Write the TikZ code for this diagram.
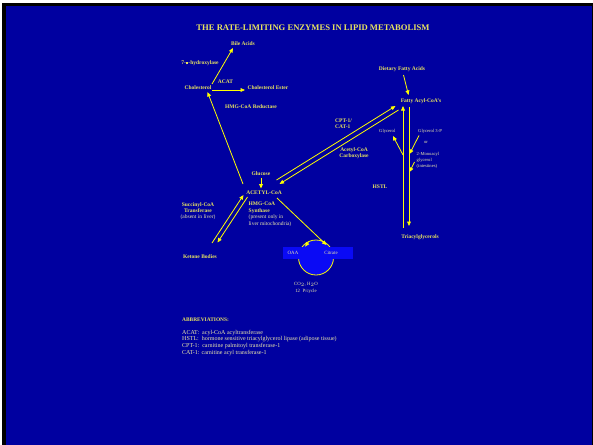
\documentclass[tikz,border=0pt]{standalone}
\usepackage{fontspec}
\setmainfont{Liberation Serif}
\usetikzlibrary{arrows.meta,calc}
\definecolor{slide}{RGB}{0,0,160}
\definecolor{cyclebox}{RGB}{10,10,245}
\definecolor{lab}{RGB}{232,228,96}
\definecolor{note}{RGB}{236,232,170}
\definecolor{arrowyellow}{RGB}{255,255,0}
\tikzset{
  lbl/.style={text=lab,font=\fontsize{5.5}{6.4}\selectfont\bfseries,inner sep=0pt,align=center},
  lblleft/.style={lbl,align=left,anchor=west},
  small/.style={text=note,font=\fontsize{4.6}{6}\selectfont,inner sep=0pt,align=center},
  flow/.style={draw=arrowyellow,line width=0.8pt,-{Triangle[length=4.5pt,width=3.8pt]}},
}
\begin{document}
\begin{tikzpicture}[x=1pt,y=-1pt]
\useasboundingbox (0,0) rectangle (593,444);
% slide background with dark frame edge
\fill[white] (0,0) rectangle (593,444);
\fill[black] (2,3) rectangle (593,446);
\fill[slide] (6,6) rectangle (592.2,446);

% title
\node[lbl,font=\fontsize{8.6}{10}\selectfont\bfseries] (title) at (313,28) {THE RATE-LIMITING ENZYMES IN LIPID METABOLISM};

% cholesterol branch
\node[lbl] (bile) at (243,44) {Bile Acids};
\node[lbl] (hydrox) at (200,63) {7-\rule{2.5pt}{2.5pt}-hydroxylase};
\node[lbl] (acat) at (225.5,82) {ACAT};
\node[lbl] (chol) at (198,88) {Cholesterol};
\node[lbl] (cholester) at (268,88) {Cholesterol Ester};
\node[lbl] (hmgred) at (251,107) {HMG-CoA Reductase};

% fatty acid branch
\node[lbl] (dietary) at (402,69) {Dietary Fatty Acids};
\node[lbl] (facoa) at (421,101) {Fatty Acyl-CoA's};
\node[lblleft] (cpt) at (335,123.5) {CPT-1/\\CAT-1};
\node[lbl] (acc) at (354,153) {Acetyl-CoA\\Carboxylase};
\node[small,anchor=west] (glycerol) at (379,131) {Glycerol};
\node[small,anchor=west] (g3p) at (418,131) {Glycerol 3-P};
\node[small] (or) at (426,142) {or};
\node[small,align=left,anchor=north west] (mag) at (416.5,152.3) {2-Monoacyl\\glycerol\\(intestines)};
\node[lbl] (hstl) at (380,187) {HSTL};
\node[lbl] (tag) at (420,237) {Triacylglycerols};

% acetyl-CoA hub
\node[lbl] (glucose) at (261,174) {Glucose};
\node[lbl] (acetyl) at (264,193) {ACETYL-CoA};
\node[lbl,align=left,anchor=north west] (hmgsyn) at (248.5,202) {HMG-CoA\\Synthase\\{\mdseries\color{note}(present only in}\\{\mdseries\color{note}liver mitochondria)}};
\node[lbl,anchor=north] (succ) at (198,202) {Succinyl-CoA\\Transferase\\{\mdseries\color{note}(absent in liver)}};
\node[lbl] (ketone) at (200,257) {Ketone Bodies};

% citric acid cycle
\node[circle,draw=arrowyellow,line width=0.8pt,fill=cyclebox,minimum size=35pt,inner sep=0pt] (cycle) at (316,257.5) {};
\fill[cyclebox] (283,246.5) rectangle (353,259);
\node[small,font=\fontsize{4.9}{6}\selectfont] (oaa) at (293,252.5) {OAA};
\node[small,font=\fontsize{4.9}{6}\selectfont] (citrate) at (331,252.5) {Citrate};
\node[small,align=center,font=\fontsize{4.8}{7}\selectfont] (co2) at (306,287.5) {CO$_2$, H$_2$O\\12 ~P/cycle};

% abbreviations
\node[lbl,anchor=west,font=\fontsize{5.4}{6.5}\selectfont\bfseries] (abbr) at (182,320) {ABBREVIATIONS:};
\node[small,align=left,anchor=north west,font=\fontsize{6}{6.75}\selectfont] (abbrlist) at (182,329.8) {ACAT:\ \ acyl-CoA acyltransferase\\HSTL:\ \ hormone sensitive triacylglycerol lipase (adipose tissue)\\CPT-1:\ \ carnitine palmitoyl transferase-1\\CAT-1: carnitine acyl transferase-1};

% connector end points
\coordinate (cholA) at (212,84);
\coordinate (bileB) at (233,48);
\coordinate (cholE) at (212,90);
\coordinate (esterW) at (245,90);
\coordinate (acetylNW) at (243,184);
\coordinate (cholS) at (207.5,92);
\coordinate (dietS) at (403.5,75);
\coordinate (facoaN) at (408.5,95);
\coordinate (glucS) at (261,178);
\coordinate (acetylN) at (261,188.5);
\coordinate (acetylSE) at (277,198);
\coordinate (citrateN) at (326.5,245);

% acetyl-CoA <-> fatty acyl-CoA (two rails)
\draw[flow] (276.5,180) -- (395.5,106);
\draw[flow] (398.5,110) -- (279.5,184);
% acetyl-CoA <-> ketone bodies (two rails)
\draw[flow] (212,243) -- (243.5,195);
\draw[flow] (247.5,197) -- (217.5,242.5);
% lipolysis / esterification rails
\draw[flow] (403,228) -- (403,106);
\draw[flow] (409,107) -- (409,226);
\coordinate (railL) at (403,155);
\coordinate (railR1) at (409.5,154);
\coordinate (railR2) at (409.5,172);

\draw[flow] (cholA) -- (bileB);
\draw[flow] (cholE) -- (esterW);
\draw[flow] (acetylNW) -- (cholS);
\draw[flow] (dietS) -- (facoaN);
\draw[flow] (glucS) -- (acetylN);
\draw[flow] (acetylSE) -- (citrateN);
\draw[flow] (railL) -- (393,136);
\draw[flow] (419,135.5) -- (railR1);
\draw[flow] (414.5,162) -- (railR2);
\draw[flow] ($(cycle.center)+(-115:17.5)$) -- ++(-3.5,5);
\end{tikzpicture}
\end{document}
